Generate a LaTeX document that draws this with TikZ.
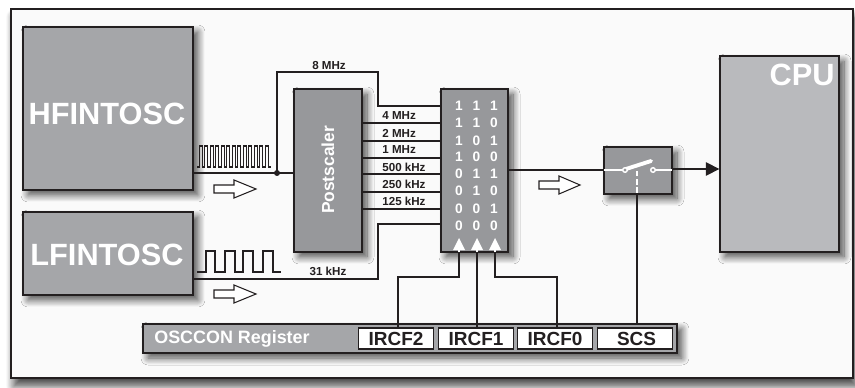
\documentclass[tikz,border=0pt]{standalone}
\usepackage{fontspec}
\setmainfont{Liberation Sans}
\usetikzlibrary{shadows.blur,arrows.meta}

\definecolor{framefill}{HTML}{FAFAFA}
\definecolor{darkblock}{HTML}{97989B}
\definecolor{midblock}{HTML}{A5A6A9}
\definecolor{cpublock}{HTML}{B9BABD}
\definecolor{wire}{HTML}{231F20}

\tikzset{
  block/.style={draw=wire, line width=.8pt, inner sep=0pt, blur shadow={shadow xshift=.1cm, shadow yshift=-.1cm, shadow blur steps=10, shadow blur radius=.14cm, shadow opacity=70}},
  bigtext/.style={text=white, font=\bfseries\fontsize{17.5}{17.5}\selectfont},
  freq/.style={text=wire, font=\bfseries\fontsize{6.6}{6.6}\selectfont, inner sep=0pt},
  row/.style={text=white, font=\bfseries\fontsize{7.8}{7.8}\selectfont, inner sep=0pt},
  cell/.style={draw=wire, line width=.6pt, fill=white, inner sep=0pt, minimum width=1.5cm, minimum height=.42cm, text=wire, font=\bfseries\fontsize{10.8}{10.8}\selectfont},
  conn/.style={draw=wire, line width=.9pt},
  ctrl/.style={draw=wire, line width=.7pt},
  hollow/.style={draw=wire, line width=.6pt, fill=white},
  pulse/.style={draw=wire, line width=.6pt},
}
\newcommand{\bitrow}[3]{\makebox[.35cm]{#1}\makebox[.35cm]{#2}\makebox[.35cm]{#3}}

\begin{document}
\begin{tikzpicture}[x=.02cm,y=-.02cm]
  \useasboundingbox (0,0) rectangle (855,388);

  % outer frame
  \node[draw=wire, line width=.7pt, fill=framefill, inner sep=0pt, minimum width=16.84cm, minimum height=7.38cm,
        blur shadow={shadow xshift=.06cm, shadow yshift=-.16cm, shadow blur steps=10, shadow blur radius=.16cm, shadow opacity=75}] (frame) at (432,193.5) {};

  % blocks
  \node[block, fill=midblock, minimum width=3.4cm, minimum height=3.26cm] (hf) at (108,108.5) {};
  \node[bigtext] (hftext) at (107,114) {HFINTOSC};
  \node[block, fill=midblock, minimum width=3.4cm, minimum height=1.66cm] (lf) at (108,253.5) {};
  \node[bigtext] (lftext) at (107,255) {LFINTOSC};
  \node[block, fill=darkblock, minimum width=1.36cm, minimum height=3.26cm] (post) at (328,170.5) {};
  \node[text=white, font=\bfseries\fontsize{9.9}{9.9}\selectfont, rotate=90] (posttext) at (328,170) {Postscaler};
  \node[block, fill=darkblock, minimum width=1.34cm, minimum height=3.26cm] (mux) at (474.5,170.5) {};
  \node[block, fill=darkblock, minimum width=1.36cm, minimum height=.94cm] (switch) at (638,170.5) {};
  \node[block, fill=cpublock, minimum width=2.38cm, minimum height=3.92cm] (cpu) at (779.5,154) {};
  \node[bigtext] (cputext) at (802,75) {CPU};
  \node[block, fill=midblock, minimum width=10.68cm, minimum height=.58cm] (reg) at (410,338.5) {};
  \node[text=white, font=\bfseries\fontsize{10.2}{10.2}\selectfont] (regtext) at (232,338.5) {OSCCON Register};

  % register cells
  \node[cell] (ircf2) at (396,338.5) {IRCF2};
  \node[cell] (ircf1) at (476,338.5) {IRCF1};
  \node[cell] (ircf0) at (555,338.5) {IRCF0};
  \node[cell] (scs) at (635,338.5) {\hspace{.06cm}SCS};

  % mux rows
  \begin{scope}[every node/.style={row}]
    \node (r0) at (476.5,106) {\bitrow 111};
    \node (r1) at (476.5,123) {\bitrow 110};
    \node (r2) at (476.5,141) {\bitrow 101};
    \node (r3) at (476.5,157) {\bitrow 100};
    \node (r4) at (476.5,174) {\bitrow 011};
    \node (r5) at (476.5,191) {\bitrow 010};
    \node (r6) at (476.5,209) {\bitrow 001};
    \node (r7) at (476.5,226) {\bitrow 000};
  \end{scope}

  % wire points
  \coordinate (dot) at (277,173);
  \coordinate (a1) at (277,72);
  \coordinate (a2) at (378,72);
  \coordinate (a3) at (378,106);
  \coordinate (b1) at (378,279);
  \coordinate (b2) at (378,224);
  \coordinate (c2) at (398,277);
  \coordinate (c3) at (459,277);
  \coordinate (c4) at (495,277);
  \coordinate (c5) at (557,277);
  \coordinate (m1) at (441,123);
  \coordinate (m2) at (441,141);
  \coordinate (m3) at (441,158);
  \coordinate (m4) at (441,174);
  \coordinate (m5) at (441,192);
  \coordinate (m6) at (441,209);
  \coordinate (n1) at (477,328);
  \coordinate (n2) at (637,324);
  \coordinate (s1) at (604,170);
  \coordinate (s2) at (672,169);

  % clock lines
  \draw[conn] (hf.east |- dot) -- (post.west |- dot);
  \fill[wire] (dot) circle (3);
  \draw[conn] (dot) -- (a1) -- (a2) -- (a3) -- (mux.west |- a3);
  \draw[conn] (post.east |- m1) -- (m1);
  \draw[conn] (post.east |- m2) -- (m2);
  \draw[conn] (post.east |- m3) -- (m3);
  \draw[conn] (post.east |- m4) -- (m4);
  \draw[conn] (post.east |- m5) -- (m5);
  \draw[conn] (post.east |- m6) -- (m6);
  \draw[conn] (lf.east |- b1) -- (b1) -- (b2) -- (mux.west |- b2);
  \draw[conn] (mux.east |- s1) -- (s1);
  \draw[conn, -{Triangle[length=.27cm,width=.27cm]}] (s2) -- (cpu.west |- s2);

  % frequency labels
  \node[freq] (f8) at (329,66) {8 MHz};
  \node[freq, anchor=west] (f4) at (382,116) {4 MHz};
  \node[freq, anchor=west] (f2) at (382,133) {2 MHz};
  \node[freq, anchor=west] (f1) at (382,150) {1 MHz};
  \node[freq, anchor=west] (f500) at (382,167) {500 kHz};
  \node[freq, anchor=west] (f250) at (382,184) {250 kHz};
  \node[freq, anchor=west] (f125) at (382,201) {125 kHz};
  \node[freq] (f31) at (328,271) {31 kHz};

  % control lines
  \draw[ctrl] (c2 |- ircf2.north) -- (c2) -- (c3) -- (c3 |- mux.south);
  \draw[ctrl] (n1) -- (n1 |- mux.south);
  \draw[ctrl] (c5 |- ircf0.north) -- (c5) -- (c4) -- (c4 |- mux.south);
  \draw[ctrl] (n2) -- (n2 |- switch.south);

  % white arrows
  \draw[white, line width=1pt] (459,252) -- (459,248);
  \draw[white, line width=1pt] (477,252) -- (477,248);
  \draw[white, line width=1pt] (495,252) -- (495,248);
  \fill[white] (459,238) -- (465,250) -- (453,250) -- cycle;
  \fill[white] (477,238) -- (483,250) -- (471,250) -- cycle;
  \fill[white] (495,238) -- (501,250) -- (489,250) -- cycle;

  % switch
  \draw[white, line width=1pt] (s1) -- (623,170);
  \draw[white, line width=1pt] (655,170) -- (672,170);
  \draw[white, line width=2.2pt, line cap=round] (626,169) -- (651,161);
  \draw[white, line width=.8pt, fill=darkblock] (625,170) circle (2.3);
  \draw[white, line width=.8pt, fill=darkblock] (653,170) circle (2.3);
  \draw[white, line width=1pt, dash pattern=on 3.2pt off 1.6pt] (637,193) -- (637,171);

  % hollow arrows
  \draw[hollow] (214,185) -- (234,185) -- (234,180) -- (256,189) -- (234,198) -- (234,193) -- (214,193) -- cycle;
  \draw[hollow] (214,290) -- (234,290) -- (234,285) -- (256,294) -- (234,303) -- (234,298) -- (214,298) -- cycle;
  \draw[hollow] (539,181) -- (559,181) -- (559,176) -- (580,185) -- (559,194) -- (559,189) -- (539,189) -- cycle;

  % pulses
  \draw[pulse] (197,167) -- (199.3,167) foreach \i in {1,...,13} { -- ++(0,-21) -- ++(2.75,0) -- ++(0,21) -- ++(2.75,0) };
  \draw[pulse] (197,272) -- (206,272) -- (206,251) -- (215,251) -- (215,272) -- (225,272) -- (225,251) -- (235,251) -- (235,272) -- (243,272) -- (243,251) -- (253,251) -- (253,272) -- (263,272) -- (263,251) -- (273,251) -- (273,272) -- (281,272);
\end{tikzpicture}
\end{document}
